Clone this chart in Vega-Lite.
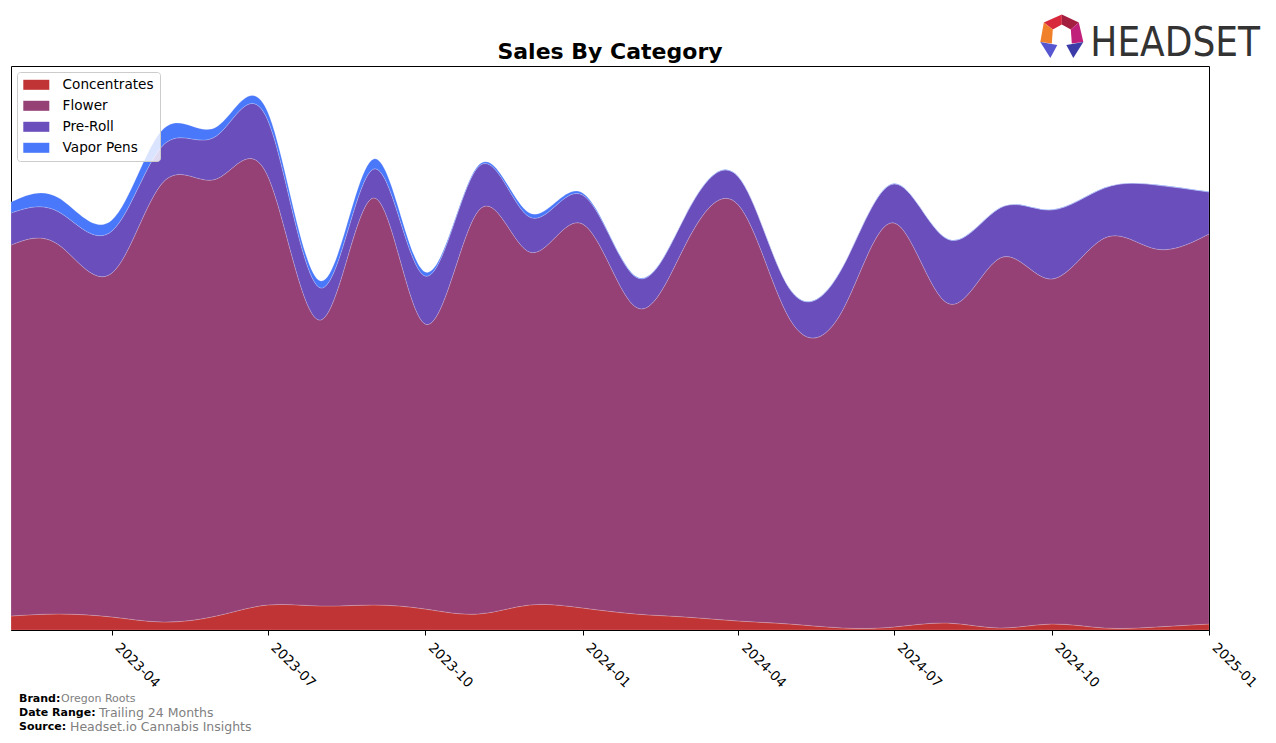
{
  "$schema": "https://vega.github.io/schema/vega-lite/v6.json",
  "width": 1198,
  "height": 564,
  "autosize": {"type": "none"},
  "padding": {"left": 11, "top": 66, "right": 67, "bottom": 113},
  "background": "white",
  "config": {"view": {"stroke": "black", "strokeWidth": 1}, "font": "DejaVu Sans"},
  "data": {"values": [
    {"month": "2023-02-01", "category": "Concentrates", "sales": 14}, {"month": "2023-02-01", "category": "Flower", "sales": 371}, {"month": "2023-02-01", "category": "Pre-Roll", "sales": 32}, {"month": "2023-02-01", "category": "Vapor Pens", "sales": 11},
    {"month": "2023-03-01", "category": "Concentrates", "sales": 16}, {"month": "2023-03-01", "category": "Flower", "sales": 369}, {"month": "2023-03-01", "category": "Pre-Roll", "sales": 33}, {"month": "2023-03-01", "category": "Vapor Pens", "sales": 14},
    {"month": "2023-04-01", "category": "Concentrates", "sales": 13}, {"month": "2023-04-01", "category": "Flower", "sales": 344}, {"month": "2023-04-01", "category": "Pre-Roll", "sales": 42}, {"month": "2023-04-01", "category": "Vapor Pens", "sales": 11},
    {"month": "2023-05-01", "category": "Concentrates", "sales": 8}, {"month": "2023-05-01", "category": "Flower", "sales": 440}, {"month": "2023-05-01", "category": "Pre-Roll", "sales": 37}, {"month": "2023-05-01", "category": "Vapor Pens", "sales": 16},
    {"month": "2023-06-01", "category": "Concentrates", "sales": 14}, {"month": "2023-06-01", "category": "Flower", "sales": 437}, {"month": "2023-06-01", "category": "Pre-Roll", "sales": 43}, {"month": "2023-06-01", "category": "Vapor Pens", "sales": 9},
    {"month": "2023-07-01", "category": "Concentrates", "sales": 25}, {"month": "2023-07-01", "category": "Flower", "sales": 429}, {"month": "2023-07-01", "category": "Pre-Roll", "sales": 56}, {"month": "2023-07-01", "category": "Vapor Pens", "sales": 8},
    {"month": "2023-08-01", "category": "Concentrates", "sales": 24}, {"month": "2023-08-01", "category": "Flower", "sales": 286}, {"month": "2023-08-01", "category": "Pre-Roll", "sales": 32}, {"month": "2023-08-01", "category": "Vapor Pens", "sales": 7},
    {"month": "2023-09-01", "category": "Concentrates", "sales": 25}, {"month": "2023-09-01", "category": "Flower", "sales": 407}, {"month": "2023-09-01", "category": "Pre-Roll", "sales": 29}, {"month": "2023-09-01", "category": "Vapor Pens", "sales": 10},
    {"month": "2023-10-01", "category": "Concentrates", "sales": 21}, {"month": "2023-10-01", "category": "Flower", "sales": 285}, {"month": "2023-10-01", "category": "Pre-Roll", "sales": 48}, {"month": "2023-10-01", "category": "Vapor Pens", "sales": 4},
    {"month": "2023-11-01", "category": "Concentrates", "sales": 16}, {"month": "2023-11-01", "category": "Flower", "sales": 403}, {"month": "2023-11-01", "category": "Pre-Roll", "sales": 44}, {"month": "2023-11-01", "category": "Vapor Pens", "sales": 1.5},
    {"month": "2023-12-01", "category": "Concentrates", "sales": 25}, {"month": "2023-12-01", "category": "Flower", "sales": 353}, {"month": "2023-12-01", "category": "Pre-Roll", "sales": 35}, {"month": "2023-12-01", "category": "Vapor Pens", "sales": 4},
    {"month": "2024-01-01", "category": "Concentrates", "sales": 22}, {"month": "2024-01-01", "category": "Flower", "sales": 384}, {"month": "2024-01-01", "category": "Pre-Roll", "sales": 29}, {"month": "2024-01-01", "category": "Vapor Pens", "sales": 2},
    {"month": "2024-02-01", "category": "Concentrates", "sales": 16}, {"month": "2024-02-01", "category": "Flower", "sales": 307}, {"month": "2024-02-01", "category": "Pre-Roll", "sales": 30}, {"month": "2024-02-01", "category": "Vapor Pens", "sales": 0.8},
    {"month": "2024-03-01", "category": "Concentrates", "sales": 13}, {"month": "2024-03-01", "category": "Flower", "sales": 372}, {"month": "2024-03-01", "category": "Pre-Roll", "sales": 29}, {"month": "2024-03-01", "category": "Vapor Pens", "sales": 0.5},
    {"month": "2024-04-01", "category": "Concentrates", "sales": 9}, {"month": "2024-04-01", "category": "Flower", "sales": 416}, {"month": "2024-04-01", "category": "Pre-Roll", "sales": 28}, {"month": "2024-04-01", "category": "Vapor Pens", "sales": 0.4},
    {"month": "2024-05-01", "category": "Concentrates", "sales": 6}, {"month": "2024-05-01", "category": "Flower", "sales": 305}, {"month": "2024-05-01", "category": "Pre-Roll", "sales": 30}, {"month": "2024-05-01", "category": "Vapor Pens", "sales": 0.4},
    {"month": "2024-06-01", "category": "Concentrates", "sales": 2}, {"month": "2024-06-01", "category": "Flower", "sales": 318}, {"month": "2024-06-01", "category": "Pre-Roll", "sales": 43}, {"month": "2024-06-01", "category": "Vapor Pens", "sales": 0.4},
    {"month": "2024-07-01", "category": "Concentrates", "sales": 3}, {"month": "2024-07-01", "category": "Flower", "sales": 404}, {"month": "2024-07-01", "category": "Pre-Roll", "sales": 39}, {"month": "2024-07-01", "category": "Vapor Pens", "sales": 0.4},
    {"month": "2024-08-01", "category": "Concentrates", "sales": 7}, {"month": "2024-08-01", "category": "Flower", "sales": 320}, {"month": "2024-08-01", "category": "Pre-Roll", "sales": 64}, {"month": "2024-08-01", "category": "Vapor Pens", "sales": 0.4},
    {"month": "2024-09-01", "category": "Concentrates", "sales": 2}, {"month": "2024-09-01", "category": "Flower", "sales": 370}, {"month": "2024-09-01", "category": "Pre-Roll", "sales": 50}, {"month": "2024-09-01", "category": "Vapor Pens", "sales": 0.4},
    {"month": "2024-10-01", "category": "Concentrates", "sales": 6}, {"month": "2024-10-01", "category": "Flower", "sales": 345}, {"month": "2024-10-01", "category": "Pre-Roll", "sales": 69}, {"month": "2024-10-01", "category": "Vapor Pens", "sales": 0.4},
    {"month": "2024-11-01", "category": "Concentrates", "sales": 2}, {"month": "2024-11-01", "category": "Flower", "sales": 390}, {"month": "2024-11-01", "category": "Pre-Roll", "sales": 50}, {"month": "2024-11-01", "category": "Vapor Pens", "sales": 0.4},
    {"month": "2024-12-01", "category": "Concentrates", "sales": 3}, {"month": "2024-12-01", "category": "Flower", "sales": 378}, {"month": "2024-12-01", "category": "Pre-Roll", "sales": 64}, {"month": "2024-12-01", "category": "Vapor Pens", "sales": 0.4},
    {"month": "2025-01-01", "category": "Concentrates", "sales": 6}, {"month": "2025-01-01", "category": "Flower", "sales": 390}, {"month": "2025-01-01", "category": "Pre-Roll", "sales": 42}, {"month": "2025-01-01", "category": "Vapor Pens", "sales": 0.4}
  ]},
  "layer": [
    {
      "mark": {"type": "area", "interpolate": "natural", "clip": true, "stroke": "white", "strokeWidth": 0.6, "strokeOpacity": 0.3},
      "encoding": {
        "x": {"field": "month", "type": "temporal",
          "scale": {"type": "utc", "nice": false, "domain": [{"year": 2023, "month": 2, "date": 1, "utc": true}, {"year": 2025, "month": 1, "date": 1, "utc": true}]},
          "axis": {"title": null, "tickCount": {"interval": "month", "step": 3}, "labelExpr": "utcFormat(datum.value, '%Y-%m')", "grid": false,
            "domainColor": "black", "tickColor": "black", "tickSize": 5, "labelColor": "black", "labelFont": "DejaVu Sans", "labelFontSize": 13.5,
            "labelAngle": 45, "labelAlign": "left", "labelBaseline": "bottom", "labelPadding": 15, "labelFlush": false, "labelOverlap": false}},
        "y": {"field": "sales", "type": "quantitative", "stack": "zero", "scale": {"domain": [0, 564], "nice": false}, "axis": null},
        "order": {"field": "category", "sort": "ascending"},
        "color": {"field": "category", "type": "nominal",
          "scale": {"domain": ["Concentrates", "Flower", "Pre-Roll", "Vapor Pens"], "range": ["#c13435", "#954176", "#6a4ebc", "#4a78fa"]},
          "legend": {"title": null, "orient": "top-left", "offset": 6, "padding": 6, "strokeColor": "#cccccc", "fillColor": "rgba(255,255,255,0.8)", "cornerRadius": 3,
            "symbolType": "M-1,-0.77H3V0.77H-1Z", "symbolSize": 169, "symbolOpacity": 1, "symbolStrokeWidth": 0,
            "labelFont": "DejaVu Sans", "labelFontSize": 13.6, "labelColor": "black", "labelOffset": 26, "rowPadding": 6, "labelLimit": 200}}
      }
    },
    {"data": {"values": [{}]}, "mark": {"type": "text", "text": "Sales By Category", "font": "DejaVu Sans", "fontWeight": "bold", "fontSize": 22, "align": "center", "baseline": "alphabetic", "color": "black"},
     "encoding": {"x": {"datum": {"year": 2024, "month": 1, "date": 17, "utc": true}, "type": "temporal"}, "y": {"datum": 571, "type": "quantitative"}}},
    {"data": {"values": [{}]}, "mark": {"type": "text", "text": "Brand:", "font": "DejaVu Sans", "fontWeight": "bold", "fontSize": 11, "align": "left", "baseline": "middle", "dx": 8, "color": "black"},
     "encoding": {"x": {"datum": {"year": 2023, "month": 2, "date": 1, "utc": true}, "type": "temporal"}, "y": {"datum": -69, "type": "quantitative"}}},
    {"data": {"values": [{}]}, "mark": {"type": "text", "text": "Oregon Roots", "font": "DejaVu Sans", "fontSize": 11, "align": "left", "baseline": "middle", "dx": 50, "color": "#808080"},
     "encoding": {"x": {"datum": {"year": 2023, "month": 2, "date": 1, "utc": true}, "type": "temporal"}, "y": {"datum": -69, "type": "quantitative"}}},
    {"data": {"values": [{}]}, "mark": {"type": "text", "text": "Date Range:", "font": "DejaVu Sans", "fontWeight": "bold", "fontSize": 11, "align": "left", "baseline": "middle", "dx": 8, "color": "black"},
     "encoding": {"x": {"datum": {"year": 2023, "month": 2, "date": 1, "utc": true}, "type": "temporal"}, "y": {"datum": -83, "type": "quantitative"}}},
    {"data": {"values": [{}]}, "mark": {"type": "text", "text": "Trailing 24 Months", "font": "DejaVu Sans", "fontSize": 12.5, "align": "left", "baseline": "middle", "dx": 88, "color": "#808080"},
     "encoding": {"x": {"datum": {"year": 2023, "month": 2, "date": 1, "utc": true}, "type": "temporal"}, "y": {"datum": -83, "type": "quantitative"}}},
    {"data": {"values": [{}]}, "mark": {"type": "text", "text": "Source:", "font": "DejaVu Sans", "fontWeight": "bold", "fontSize": 11, "align": "left", "baseline": "middle", "dx": 8, "color": "black"},
     "encoding": {"x": {"datum": {"year": 2023, "month": 2, "date": 1, "utc": true}, "type": "temporal"}, "y": {"datum": -97, "type": "quantitative"}}},
    {"data": {"values": [{}]}, "mark": {"type": "text", "text": "Headset.io Cannabis Insights", "font": "DejaVu Sans", "fontSize": 12.5, "align": "left", "baseline": "middle", "dx": 59, "color": "#808080"},
     "encoding": {"x": {"datum": {"year": 2023, "month": 2, "date": 1, "utc": true}, "type": "temporal"}, "y": {"datum": -97, "type": "quantitative"}}},
    {"data": {"values": [{}]}, "mark": {"type": "text", "text": "HEADSET", "font": "DejaVu Sans Condensed, Roboto", "fontSize": 40, "align": "right", "baseline": "alphabetic", "dx": 51, "color": "#333333"},
     "encoding": {"x": {"datum": {"year": 2025, "month": 1, "date": 1, "utc": true}, "type": "temporal"}, "y": {"datum": 574, "type": "quantitative"}}},
    {"data": {"values": [{}]}, "mark": {"type": "point", "shape": "M-18,-14L0,-22L0,-12L-9,-7Z", "size": 4, "filled": true, "opacity": 1, "color": "#d8283c"},
     "encoding": {"x": {"datum": {"year": 2024, "month": 10, "date": 7, "utc": true}, "type": "temporal"}, "y": {"datum": 593.5, "type": "quantitative"}}},
    {"data": {"values": [{}]}, "mark": {"type": "point", "shape": "M0,-22L17,-14L9,-7L0,-12Z", "size": 4, "filled": true, "opacity": 1, "color": "#a41e40"},
     "encoding": {"x": {"datum": {"year": 2024, "month": 10, "date": 7, "utc": true}, "type": "temporal"}, "y": {"datum": 593.5, "type": "quantitative"}}},
    {"data": {"values": [{}]}, "mark": {"type": "point", "shape": "M-18,-14L-9,-7L-10,7L-21.5,5.5Z", "size": 4, "filled": true, "opacity": 1, "color": "#f0802a"},
     "encoding": {"x": {"datum": {"year": 2024, "month": 10, "date": 7, "utc": true}, "type": "temporal"}, "y": {"datum": 593.5, "type": "quantitative"}}},
    {"data": {"values": [{}]}, "mark": {"type": "point", "shape": "M17,-14L21.5,5.5L10,7L9,-7Z", "size": 4, "filled": true, "opacity": 1, "color": "#c0207a"},
     "encoding": {"x": {"datum": {"year": 2024, "month": 10, "date": 7, "utc": true}, "type": "temporal"}, "y": {"datum": 593.5, "type": "quantitative"}}},
    {"data": {"values": [{}]}, "mark": {"type": "point", "shape": "M-21.5,5.5L-4.5,8.5L-11.5,21.5Z", "size": 4, "filled": true, "opacity": 1, "color": "#5656d0"},
     "encoding": {"x": {"datum": {"year": 2024, "month": 10, "date": 7, "utc": true}, "type": "temporal"}, "y": {"datum": 593.5, "type": "quantitative"}}},
    {"data": {"values": [{}]}, "mark": {"type": "point", "shape": "M21.5,5.5L11.5,21.5L4.5,8.5Z", "size": 4, "filled": true, "opacity": 1, "color": "#3c3ca8"},
     "encoding": {"x": {"datum": {"year": 2024, "month": 10, "date": 7, "utc": true}, "type": "temporal"}, "y": {"datum": 593.5, "type": "quantitative"}}}
  ]
}
